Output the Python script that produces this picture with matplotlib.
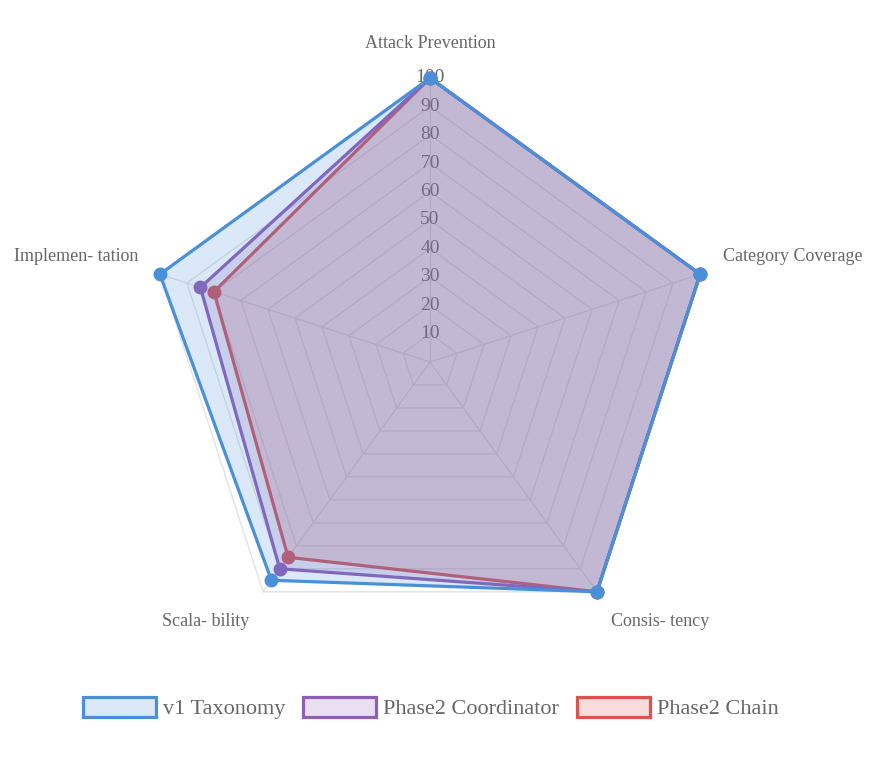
import numpy as np
import matplotlib
matplotlib.use('Agg')
import matplotlib.pyplot as plt
from matplotlib.patches import Patch

plt.rcParams['font.family'] = ['Liberation Serif', 'DejaVu Serif']

# Data
categories = ['Attack Prevention', 'Category Coverage', 'Consis- tency', 'Scala- bility', 'Implemen- tation']
v1_taxonomy = [100, 100, 100, 95, 100]
phase2_coordinator = [100, 100, 100, 90, 85]
phase2_chain = [100, 100, 100, 85, 80]
tick_values = [10, 20, 30, 40, 50, 60, 70, 80, 90, 100]

series = [
    ('v1 Taxonomy', v1_taxonomy, '#4a90d9'),
    ('Phase2 Coordinator', phase2_coordinator, '#8e5fb5'),
    ('Phase2 Chain', phase2_chain, '#d9534f'),
]

W, H = 884, 758
fig = plt.figure(figsize=(W / 100, H / 100), dpi=100)

cx, cy, R = 430, 362, 284
ax = fig.add_axes([(cx - R) / W, (H - cy - R) / H, 2 * R / W, 2 * R / H], projection='polar')
ax.set_theta_offset(np.pi / 2)
ax.set_theta_direction(-1)
ax.set_ylim(0, 100)
ax.set_xticks([])
ax.set_yticks([])
ax.grid(False)
ax.spines['polar'].set_visible(False)
ax.patch.set_alpha(0)

n = len(categories)
theta = np.linspace(0, 2 * np.pi, n, endpoint=False)
theta_c = np.append(theta, theta[0])

# grid
grid_col = '#e3e3e3'
for t in tick_values:
    ax.plot(theta_c, [t] * (n + 1), color=grid_col, lw=1, zorder=1, clip_on=False)
for th in theta:
    ax.plot([th, th], [0, 100], color=grid_col, lw=1, zorder=1, clip_on=False)

# tick labels
for t in tick_values:
    ax.text(0, t, str(t), ha='center', va='center', fontsize=14, color='#666666', zorder=2)

# datasets (last drawn first, like chart.js)
z = 3
for name, vals, col in reversed(series):
    v = np.append(vals, vals[0])
    ax.fill(theta_c, v, color=col, alpha=0.2, lw=0, zorder=z)
    ax.plot(theta_c, v, color=col, lw=2.3, zorder=z + 0.1, clip_on=False)
    ax.plot(theta, vals, 'o', color=col, ms=9, zorder=z + 0.2, clip_on=False)
    z += 1

# category labels
offsets = [(0, 34, 'center'), (23, 18, 'left'), (14, -30, 'left'), (-14, -30, 'right'), (-22, 18, 'right')]
for th, lab, (dx, dy, ha) in zip(theta, categories, offsets):
    ax.annotate(lab, xy=(th, 100), xytext=(dx, dy), textcoords='offset pixels',
                ha=ha, va='center', fontsize=13, color='#666666', annotation_clip=False)

handles = [Patch(facecolor=matplotlib.colors.to_rgba(c, 0.2), edgecolor=c, lw=2.3, label=nm)
           for nm, _, c in series]
fig.legend(handles=handles, loc='center', bbox_to_anchor=(0.487, 0.066), ncol=3, frameon=False,
           fontsize=16, handlelength=3.3, handleheight=1.0, handletextpad=0.3, columnspacing=0.8,
           labelcolor='#666666')

fig.savefig('out.png', dpi=100)
